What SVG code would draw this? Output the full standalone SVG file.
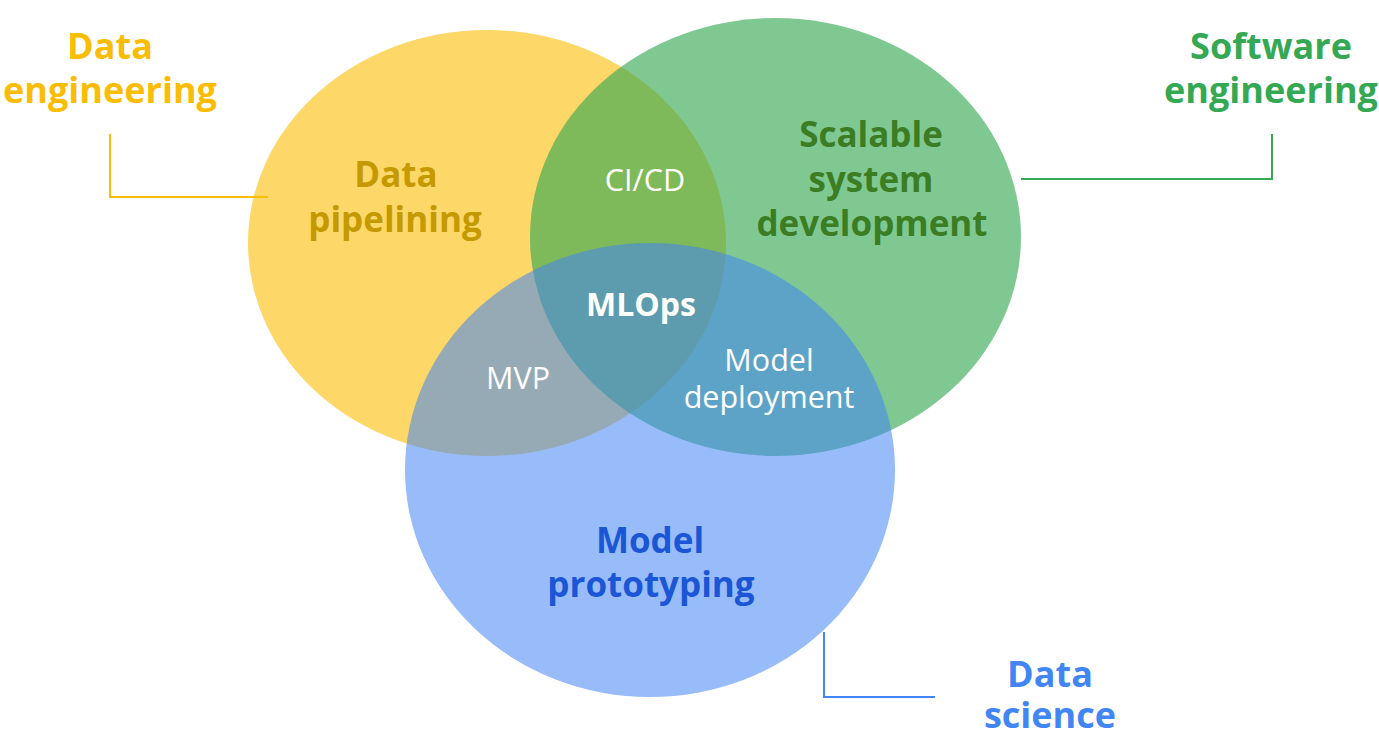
<svg xmlns="http://www.w3.org/2000/svg" width="1379" height="736" viewBox="0 0 1379 736">
<style>
.t{font-family:"Open Sans","Liberation Sans",sans-serif;text-anchor:middle}
.b{font-weight:700;font-size:35px}
.o{font-size:36px}
.r{font-weight:400;font-size:30.5px;fill:#fff}
.conn{fill:none;stroke-width:2}
</style>
<rect width="1379" height="736" fill="#fff"/>
<g id="circle-data-engineering">
<ellipse cx="487" cy="243" rx="239" ry="213" fill="#FBBC04" fill-opacity="0.6"/>
</g>
<g id="circle-software-engineering">
<ellipse cx="775.5" cy="237" rx="245.5" ry="219" fill="#34A853" fill-opacity="0.63"/>
</g>
<g id="circle-data-science">
<ellipse cx="650" cy="470" rx="245" ry="227" fill="#4285F4" fill-opacity="0.55"/>
</g>
<g id="connectors">
<polyline class="conn" stroke="#FBBC04" points="110,134 110,197 268,197"/>
<polyline class="conn" stroke="#34A853" points="1272,134 1272,179 1021,179"/>
<polyline class="conn" stroke="#4285F4" points="824,632 824,697 935,697"/>
</g>
<g id="label-data-engineering">
<text class="t b o" fill="#FBBC04" x="110" y="59">Data</text>
<text class="t b o" fill="#FBBC04" x="110" y="103">engineering</text>
</g>
<g id="label-software-engineering">
<text class="t b o" fill="#34A853" x="1271" y="59">Software</text>
<text class="t b o" fill="#34A853" x="1271" y="103">engineering</text>
</g>
<g id="label-data-science">
<text class="t b o" fill="#4285F4" x="1050" y="687">Data</text>
<text class="t b o" fill="#4285F4" x="1050" y="728">science</text>
</g>
<g id="node-data-pipelining">
<text class="t b" fill="#C49A00" x="396" y="187">Data</text>
<text class="t b" fill="#C49A00" x="395" y="232">pipelining</text>
</g>
<g id="node-scalable">
<text class="t b" fill="#3B7D23" x="871" y="147">Scalable</text>
<text class="t b" fill="#3B7D23" x="871" y="192">system</text>
<text class="t b" fill="#3B7D23" x="872" y="236">development</text>
</g>
<g id="node-model-prototyping">
<text class="t b" fill="#1A56D6" x="650" y="553">Model</text>
<text class="t b" fill="#1A56D6" x="651" y="597">prototyping</text>
</g>
<g id="node-cicd"><text class="t r" x="645" y="191">CI/CD</text></g>
<g id="node-mlops"><text class="t b" fill="#fff" x="641" y="316" style="font-size:32px">MLOps</text></g>
<g id="node-mvp"><text class="t r" x="518" y="389">MVP</text></g>
<g id="node-model-deployment">
<text class="t r" x="769" y="371">Model</text>
<text class="t r" x="769" y="408">deployment</text>
</g>
</svg>
